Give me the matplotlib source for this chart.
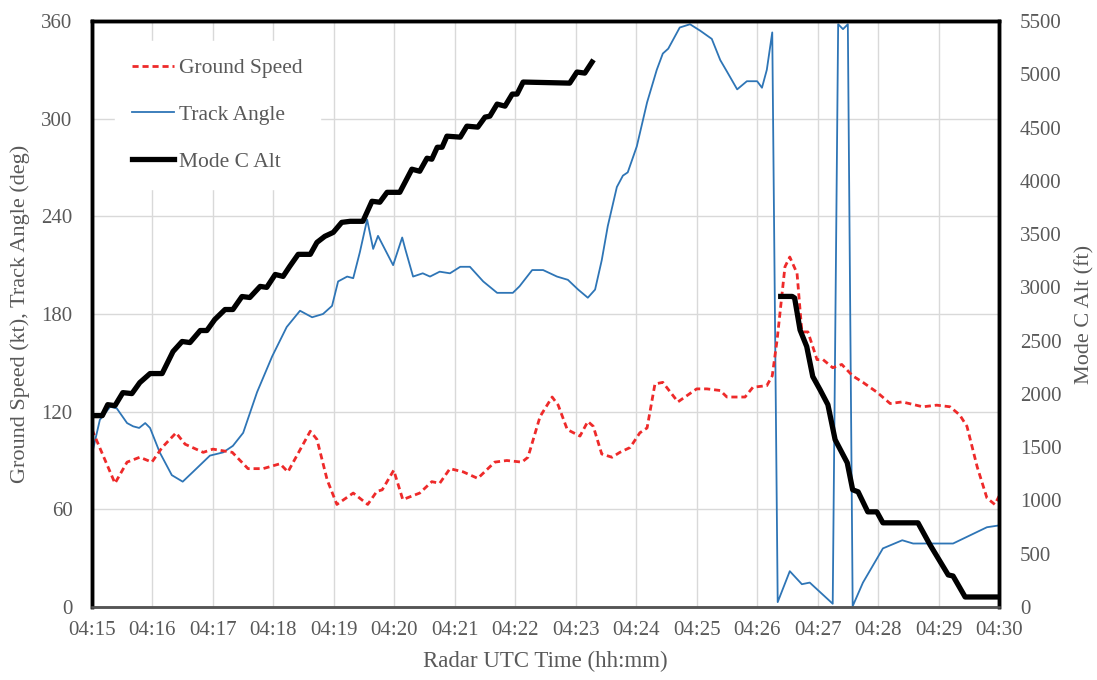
import matplotlib
matplotlib.use('Agg')
import matplotlib.pyplot as plt

# time in minutes after 04:15
gs_t = [0.00, 0.38, 0.58, 0.79, 0.99, 1.16, 1.39, 1.54, 1.84, 2.00, 2.32, 2.58, 2.83, 3.11,
        3.24, 3.61, 3.72, 3.89, 4.05, 4.32, 4.56, 4.71, 4.80, 4.99, 5.14, 5.42, 5.62, 5.75,
        5.92, 6.14, 6.38, 6.66, 6.86, 7.11, 7.21, 7.41, 7.61, 7.71, 7.86, 8.07, 8.20, 8.29,
        8.43, 8.60, 8.73, 8.90, 9.06, 9.18, 9.31, 9.44, 9.69, 10.00, 10.17, 10.39, 10.50,
        10.80, 10.93, 11.16, 11.25, 11.33, 11.46, 11.54, 11.66, 11.74, 11.84, 11.99, 12.09,
        12.25, 12.40, 12.58, 12.75, 12.98, 13.20, 13.40, 13.74, 13.97, 14.19, 14.35, 14.47,
        14.64, 14.80, 14.93, 15.00]
gs_v = [109, 76, 89, 92, 89, 98, 107, 100, 95, 97, 95, 85, 85, 88,
        83, 108, 103, 78, 63, 70, 63, 71, 72, 84, 66, 70, 77, 76,
        85, 83, 79, 89, 90, 89, 92, 117, 129, 124, 109, 105, 114, 111,
        94, 92, 95, 98, 107, 110, 137, 138, 126, 134, 134, 133, 129,
        129, 135, 136, 142, 164, 209, 215, 205, 169, 169, 152, 152,
        147, 149, 142, 138, 132, 125, 126, 123, 124, 123, 118, 111,
        86, 67, 63, 68]

ta_t = [0.00, 0.13, 0.30, 0.41, 0.58, 0.68, 0.78, 0.88, 0.96, 1.12, 1.32, 1.50, 1.67, 1.95,
        2.17, 2.33, 2.50, 2.73, 2.98, 3.22, 3.44, 3.64, 3.82, 3.97, 4.07, 4.22, 4.32, 4.43,
        4.55, 4.65, 4.73, 4.98, 5.13, 5.18, 5.31, 5.47, 5.59, 5.75, 5.92, 6.09, 6.25, 6.47,
        6.70, 6.96, 7.07, 7.28, 7.46, 7.69, 7.87, 8.04, 8.20, 8.32, 8.43, 8.53, 8.68, 8.78,
        8.86, 9.01, 9.18, 9.34, 9.44, 9.53, 9.72, 9.89, 10.06, 10.25, 10.39, 10.50, 10.67,
        10.83, 11.00, 11.08, 11.16, 11.25, 11.34, 11.54, 11.74, 11.87, 12.25, 12.34, 12.42,
        12.50, 12.58, 12.75, 13.08, 13.40, 13.58, 13.91, 14.24, 14.52, 14.80, 14.98]
ta_v = [94, 115, 123, 122, 113, 111, 110, 113, 110, 95, 81, 77, 83, 93,
        95, 99, 107, 132, 154, 172, 182, 178, 180, 185, 200, 203, 202, 218,
        238, 220, 228, 210, 227, 220, 203, 205, 203, 206, 205, 209, 209, 200,
        193, 193, 197, 207, 207, 203, 201, 195, 190, 195, 213, 234, 258, 265,
        267, 283, 310, 330, 340, 343, 356, 358, 354, 349, 336, 329, 318,
        323, 323, 319, 330, 353, 3, 22, 14, 15, 2, 358, 355,
        358, 0.5, 15, 36, 41, 39, 39, 39, 44, 49, 50]

alt1_t = [0.00, 0.17, 0.26, 0.38, 0.51, 0.66, 0.79, 0.96, 1.16, 1.34, 1.49, 1.62, 1.79, 1.90,
          2.03, 2.20, 2.33, 2.48, 2.61, 2.78, 2.89, 3.03, 3.16, 3.27, 3.41, 3.61, 3.72, 3.85,
          3.99, 4.13, 4.27, 4.48, 4.63, 4.76, 4.88, 5.09, 5.29, 5.42, 5.54, 5.62, 5.71, 5.79,
          5.87, 6.09, 6.20, 6.38, 6.50, 6.58, 6.70, 6.83, 6.95, 7.03, 7.13, 7.90, 8.02, 8.15,
          8.27]
alt1_v = [1796, 1796, 1899, 1890, 2012, 2003, 2106, 2191, 2191, 2398, 2492, 2482, 2595, 2595,
          2698, 2792, 2792, 2914, 2905, 3009, 3000, 3121, 3103, 3197, 3310, 3310, 3422, 3479,
          3516, 3610, 3620, 3620, 3808, 3799, 3892, 3892, 4109, 4090, 4212, 4203, 4315, 4315,
          4419, 4410, 4513, 4504, 4598, 4607, 4720, 4701, 4814, 4814, 4927, 4917, 5021, 5011,
          5115]

alt2_t = [11.39, 11.58, 11.62, 11.71, 11.82, 11.92, 12.04, 12.17, 12.29, 12.49, 12.58, 12.67,
          12.83, 12.98, 13.08, 13.66, 13.86, 14.16, 14.24, 14.44, 14.98]
alt2_v = [2915, 2915, 2900, 2600, 2445, 2163, 2040, 1899, 1570, 1354, 1100, 1081,
          893, 893, 790, 790, 583, 301, 291, 94, 94]

x_ticks = list(range(0, 16))
x_labels = ['04:%02d' % (15 + m) for m in x_ticks]
left_ticks = [0, 60, 120, 180, 240, 300, 360]
right_ticks = list(range(0, 5501, 500))

plt.rcParams['font.family'] = ['Liberation Serif', 'DejaVu Serif']
gray = '#595959'

fig = plt.figure(figsize=(10.97, 6.8), dpi=100)
ax = fig.add_axes([92 / 1097, 1 - 607 / 680, (999 - 92) / 1097, (607 - 21) / 680])
ax2 = ax.twinx()

# grid
ax.set_axisbelow(True)
ax.grid(True, color='#d9d9d9', lw=1)

l_ta, = ax.plot(ta_t, ta_v, color='#2e75b6', lw=1.3, label='Track Angle')
l_gs, = ax.plot(gs_t, gs_v, color='#ee2a2a', lw=2.0, ls=(0, (2.2, 1.4)), label='Ground Speed')
l_alt, = ax2.plot(alt1_t, alt1_v, color='black', lw=3.8, label='Mode C Alt')
ax2.plot(alt2_t, alt2_v, color='black', lw=3.8)

ax.set_xlim(0, 15)
ax.set_ylim(0, 360)
ax2.set_ylim(0, 5500)
ax.set_xticks(x_ticks)
ax.set_xticklabels(x_labels)
ax.set_yticks(left_ticks)
ax2.set_yticks(right_ticks)

ax.tick_params(axis='x', length=0, pad=10, labelsize=15, labelcolor=gray)
ax.tick_params(axis='y', length=0, pad=14, labelsize=15, labelcolor=gray)
ax2.tick_params(axis='y', length=0, pad=15, labelsize=15, labelcolor=gray)

for a in (ax, ax2):
    for s in ('left', 'top', 'right'):
        a.spines[s].set_color('black')
        a.spines[s].set_linewidth(2.5)
    a.spines['bottom'].set_color('#555555')
    a.spines['bottom'].set_linewidth(1.8)

ax.set_xlabel('Radar UTC Time (hh:mm)', fontsize=16.5, color=gray, labelpad=8)
ax.set_ylabel('Ground Speed (kt), Track Angle (deg)', fontsize=16, color=gray, labelpad=8)
ax2.set_ylabel('Mode C Alt (ft)', fontsize=16, color=gray, labelpad=10)

leg = fig.legend(handles=[l_gs, l_ta, l_alt], loc='upper left',
                 bbox_to_anchor=(104 / 1097, 1 - 30 / 680), fontsize=15.5,
                 frameon=True, fancybox=False, framealpha=1, edgecolor='white',
                 handlelength=1.95, handletextpad=0.25, labelspacing=1.25, borderpad=0.8)
for t in leg.get_texts():
    t.set_color(gray)

fig.savefig('out.png', dpi=100)
